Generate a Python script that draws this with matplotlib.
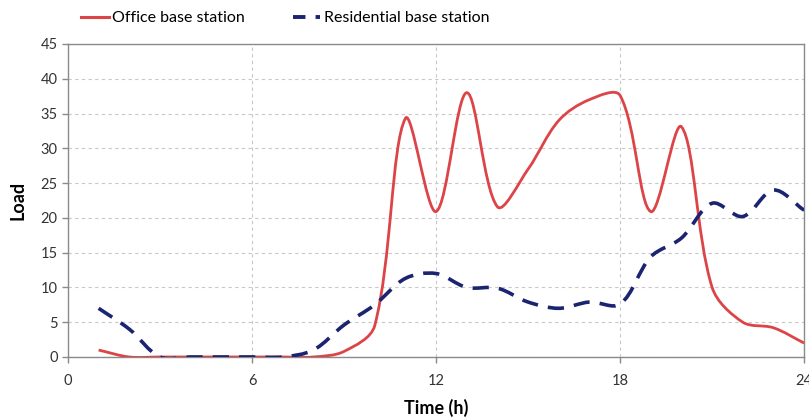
import math

import matplotlib
matplotlib.use("Agg")
import matplotlib.pyplot as plt
from matplotlib.path import Path
from matplotlib.patches import PathPatch
from matplotlib.lines import Line2D

hours = [1, 2, 3, 4, 5, 6, 7, 8, 9, 10, 11, 12, 13, 14, 15, 16, 17, 18, 19, 20, 21, 22, 23, 24]
office = [1, 0, 0, 0, 0, 0, 0, 0, 0.8, 4.5, 34.3, 20.9, 38, 21.6, 27, 34, 37, 37.6, 20.9, 33.1, 10, 5, 4.2, 2]
residential = [7, 4, 0, 0, 0, 0, 0, 1, 4.6, 7.5, 11.3, 12, 10, 9.9, 7.9, 7, 7.9, 7.6, 14.4, 17.1, 22.1, 20.2, 24, 21.1]

x_ticks = [0, 6, 12, 18, 24]
y_ticks = list(range(0, 50, 5))

plt.rcParams["font.family"] = ["Lato", "DejaVu Sans"]

# px per data unit, used so the curve smoothing behaves like excel (screen space)
SX = 736 / 24.0
SY = 313 / 45.0


def smooth_path(xs, ys):
    pts = [(x * SX, y * SY) for x, y in zip(xs, ys)]
    n = len(pts)

    def dist(a, b):
        return math.hypot(b[0] - a[0], b[1] - a[1])

    handles = []
    for i in range(n):
        p0 = pts[max(i - 1, 0)]
        p1 = pts[i]
        p2 = pts[min(i + 1, n - 1)]
        tx, ty = p2[0] - p0[0], p2[1] - p0[1]
        db, df = dist(p0, p1), dist(p1, p2)
        tot = db + df if db + df > 0 else 1.0
        fwd = (p1[0] + tx * df / tot / 3, p1[1] + ty * df / tot / 3)
        bwd = (p1[0] - tx * db / tot / 3, p1[1] - ty * db / tot / 3)
        handles.append((bwd, fwd))

    verts = [pts[0]]
    codes = [Path.MOVETO]
    for i in range(n - 1):
        verts += [handles[i][1], handles[i + 1][0], pts[i + 1]]
        codes += [Path.CURVE4] * 3
    verts = [(x / SX, y / SY) for x, y in verts]
    return Path(verts, codes)


fig = plt.figure(figsize=(8.09, 4.19), dpi=100)
ax = fig.add_axes([0.084, 0.148, 0.910, 0.747])

red = "#dc4448"
navy = "#1b2470"

ax.add_patch(PathPatch(smooth_path(hours, office), facecolor="none", edgecolor=red,
                       linewidth=2.0, capstyle="butt", zorder=3))
ax.add_patch(PathPatch(smooth_path(hours, residential), facecolor="none", edgecolor=navy,
                       linewidth=2.6, linestyle=(0, (4.5, 2.8)), capstyle="butt", zorder=4))

ax.set_xlim(0, 24)
ax.set_ylim(0, 45)
ax.set_xticks(x_ticks)
ax.set_yticks(y_ticks)
ax.grid(True, color="#c8c8c8", linestyle=(0, (3, 3)), linewidth=0.8)
ax.set_axisbelow(True)

for s in ax.spines.values():
    s.set_color("#8a8a8a")
    s.set_linewidth(1.0)

ax.tick_params(axis="both", colors="#8a8a8a", length=4, width=1, labelsize=10.5,
               labelcolor="#333333")
ax.tick_params(axis="x", pad=8)

ax.set_xlabel("Time (h)", fontsize=13, fontweight="bold", labelpad=8)
ax.set_ylabel("Load", fontsize=13, fontweight="bold", labelpad=10)

handles = [Line2D([], [], color=red, linewidth=2.2),
           Line2D([], [], color=navy, linewidth=2.8, linestyle=(0, (3.2, 2.6)))]
fig.legend(handles, ["Office base station", "Residential base station"],
           loc="upper left", bbox_to_anchor=(0.082, 1.008), ncol=2, frameon=False,
           fontsize=11.5, handlelength=1.75, handletextpad=0.2, columnspacing=3.0)

fig.savefig("out.png", dpi=100)
